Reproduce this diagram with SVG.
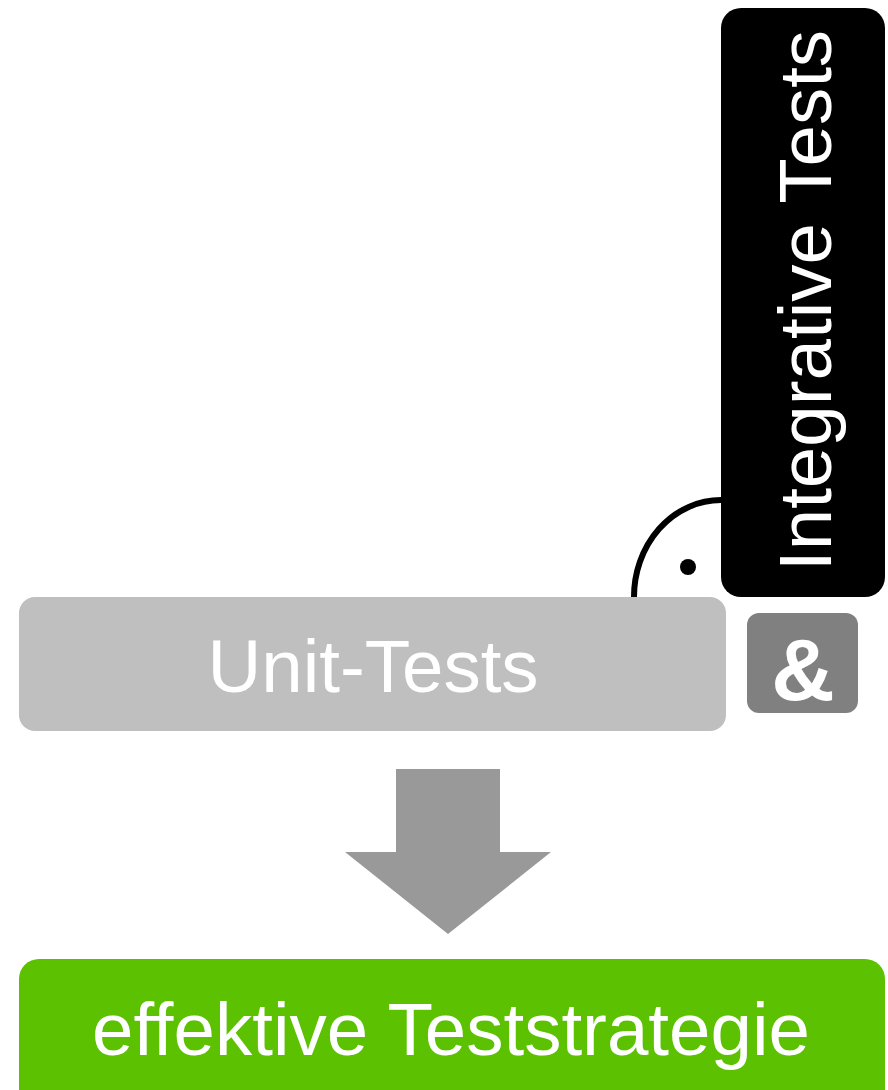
<svg xmlns="http://www.w3.org/2000/svg" width="888" height="1090" viewBox="0 0 888 1090">
  <style>
    .label { font-family: "Liberation Sans", Arial, sans-serif; font-size: 74.5px; fill: #ffffff; }
    .amp { font-family: "Liberation Sans", Arial, sans-serif; font-size: 88px; font-weight: bold; fill: #ffffff; }
  </style>
  <rect width="888" height="1090" fill="#ffffff"/>

  <g id="connectors">
    <!-- socket arc of the required interface -->
    <path d="M 634 598 A 87 97 0 0 1 721 500" fill="none" stroke="#000000" stroke-width="6"/>
    <circle cx="688" cy="567" r="8" fill="#000000"/>
    <!-- downward arrow -->
    <polygon points="396,769 500,769 500,852 551,852 448,934 345,852 396,852" fill="#999999"/>
  </g>

  <g id="integrative-tests">
    <rect x="721" y="8" width="164" height="589" rx="20" fill="#000000"/>
    <text class="label" transform="translate(831,571) rotate(-90)">Integrative Tests</text>
  </g>

  <g id="unit-tests">
    <rect x="19" y="597" width="707" height="134" rx="16" fill="#bfbfbf"/>
    <text class="label" x="373" y="692" text-anchor="middle">Unit-Tests</text>
  </g>

  <g id="and">
    <rect x="747" y="613" width="111" height="100" rx="12" fill="#808080"/>
    <text class="amp" x="803" y="700" text-anchor="middle">&amp;</text>
  </g>

  <g id="strategy">
    <rect x="19" y="959" width="866" height="150" rx="20" fill="#5bc100"/>
    <text class="label" x="451" y="1055" text-anchor="middle">effektive Teststrategie</text>
  </g>
</svg>
